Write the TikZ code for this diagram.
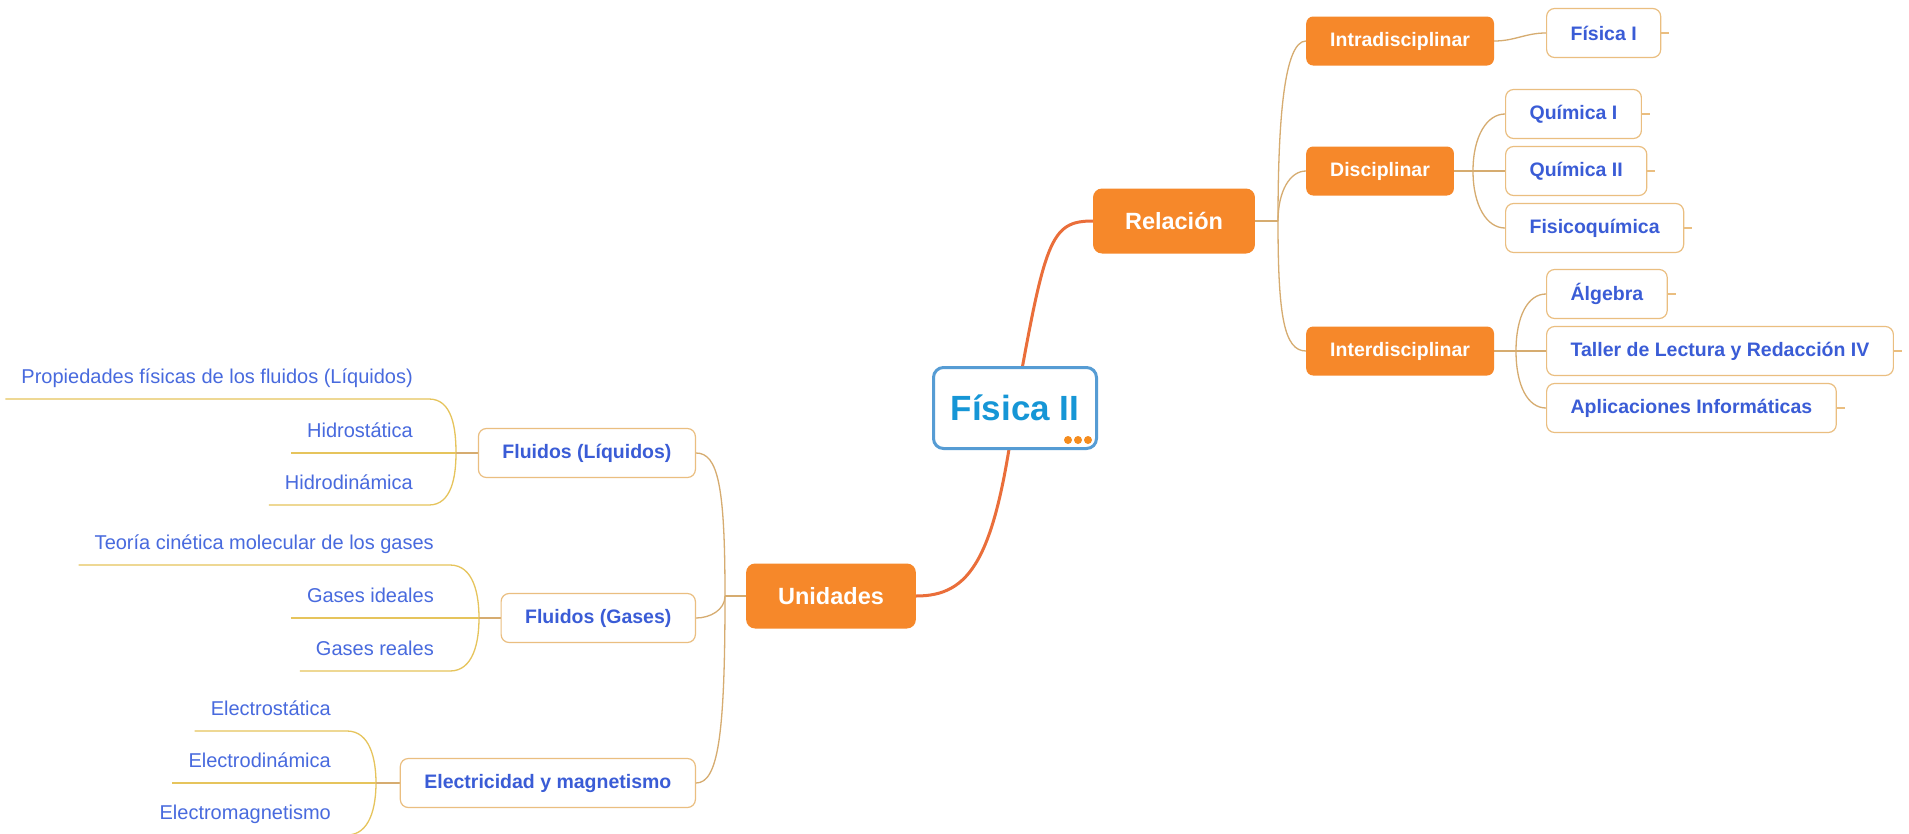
\documentclass[tikz,border=0pt]{standalone}
\usepackage{fontspec}
\setmainfont{Liberation Sans}
\usetikzlibrary{backgrounds}

\definecolor{mapOrange}{RGB}{246,136,42}
\definecolor{mainLine}{RGB}{234,110,58}
\definecolor{subLine}{RGB}{214,172,112}
\definecolor{leafLine}{RGB}{230,196,92}
\definecolor{boxEdge}{RGB}{234,190,128}
\definecolor{textBlue}{RGB}{58,92,214}
\definecolor{leafBlue}{RGB}{72,106,222}
\definecolor{titleBlue}{RGB}{22,150,214}
\definecolor{titleEdge}{RGB}{86,156,212}
\definecolor{dotOrange}{RGB}{245,140,30}

\tikzset{
  root/.style={draw=titleEdge, line width=3pt, fill=white, rounded corners=10pt,
    minimum width=163pt, minimum height=81pt, text=titleBlue,
    font=\fontsize{35}{40}\selectfont\bfseries},
  topic/.style={fill=mapOrange, rounded corners=9pt, text=white, inner xsep=32pt,
    minimum height=65pt, font=\fontsize{23.5}{28}\selectfont\bfseries},
  subtopic/.style={fill=mapOrange, rounded corners=7pt, text=white, inner xsep=24pt,
    minimum height=49pt, font=\fontsize{19.5}{23}\selectfont\bfseries},
  item/.style={draw=boxEdge, line width=1.2pt, fill=white, rounded corners=8pt,
    text=textBlue, inner xsep=24pt, minimum height=49pt,
    font=\fontsize{19.5}{23}\selectfont\bfseries},
  leaf/.style={text=leafBlue, inner xsep=16pt, inner ysep=10pt, text height=15pt,
    text depth=5pt, anchor=south east, font=\fontsize{20}{24}\selectfont},
  mainline/.style={draw=mainLine, line width=3pt},
  subline/.style={draw=subLine, line width=1.3pt},
  leafline/.style={draw=leafLine, line width=1.3pt},
  tick/.style={draw=boxEdge, line width=1.2pt}
}

\begin{document}
\begin{tikzpicture}[x=1pt,y=1pt]
\useasboundingbox (0,0) rectangle (1909,-833);

\node[root] (fis2) at (1015,-408) {Física II};
\foreach \dx in {-30,-20,-10}
  \fill[dotOrange] ([shift={(\dx,10)}]fis2.south east) circle (4);

\node[topic] (rel) at (1174,-221) {Relación};
\node[topic] (uni) at (831,-596) {Unidades};

% Relacion
\node[subtopic, anchor=west] (intra) at (1306,-41) {Intradisciplinar};
\node[subtopic, anchor=west] (disc) at (1306,-171) {Disciplinar};
\node[subtopic, anchor=west] (inter) at (1306,-351) {Interdisciplinar};
\node[item, anchor=west] (fis1) at (1546,-33) {Física I};
\node[item, anchor=west] (qui1) at (1505,-114) {Química I};
\node[item, anchor=west] (qui2) at (1505,-171) {Química II};
\node[item, anchor=west] (fisq) at (1505,-228) {Fisicoquímica};
\node[item, anchor=west] (alg) at (1546,-294) {Álgebra};
\node[item, anchor=west] (tlr) at (1546,-351) {Taller de Lectura y Redacción IV};
\node[item, anchor=west] (apl) at (1546,-408) {Aplicaciones Informáticas};

% Unidades
\node[item, anchor=east] (fliq) at (696,-453) {Fluidos (Líquidos)};
\node[item, anchor=east] (fgas) at (696,-618) {Fluidos (Gases)};
\node[item, anchor=east] (elec) at (696,-783) {Electricidad y magnetismo};
\node[leaf] (prop) at (429,-399) {Propiedades físicas de los fluidos (Líquidos)};
\node[leaf] (hest) at (429,-453) {Hidrostática};
\node[leaf] (hdin) at (429,-505) {Hidrodinámica};
\node[leaf] (teo) at (450,-565) {Teoría cinética molecular de los gases};
\node[leaf] (gid) at (450,-618) {Gases ideales};
\node[leaf] (gre) at (450,-671) {Gases reales};
\node[leaf] (est) at (347,-731) {Electrostática};
\node[leaf] (edin) at (347,-783) {Electrodinámica};
\node[leaf] (emag) at (347,-835) {Electromagnetismo};

\coordinate (j1) at (1278,-221);
\coordinate (j2) at (1473,-171);
\coordinate (j3) at (1516,-351);
\coordinate (j4) at (725,-596);
\coordinate (bliq) at (456,-453);
\coordinate (bgas) at (479,-618);
\coordinate (bele) at (376,-783);

\begin{scope}[on background layer]
\fill[white] (0,0) rectangle (1909,-833);
\draw[mainline] (fis2.center) .. controls (1045,-240) and (1050,-221) .. (rel.west);
\draw[mainline] (fis2.center) .. controls (995,-560) and (970,-596) .. (uni.east);

\draw[subline] (rel.east) -- (j1);
\draw[subline] (j1) .. controls +(0,100) and +(-22,0) .. (intra.west);
\draw[subline] (j1) .. controls +(0,30) and +(-16,0) .. (disc.west);
\draw[subline] (j1) .. controls +(0,-95) and +(-22,0) .. (inter.west);
\draw[subline] (intra.east) to[out=0,in=180] (fis1.west);
\draw[subline] (disc.east) -- (j2);
\draw[subline] (j2) .. controls +(0,35) and +(-18,0) .. (qui1.west);
\draw[subline] (j2) -- (qui2.west);
\draw[subline] (j2) .. controls +(0,-35) and +(-18,0) .. (fisq.west);
\draw[subline] (inter.east) -- (j3);
\draw[subline] (j3) .. controls +(0,35) and +(-18,0) .. (alg.west);
\draw[subline] (j3) -- (tlr.west);
\draw[subline] (j3) .. controls +(0,-35) and +(-18,0) .. (apl.west);
\foreach \n in {fis1,qui1,qui2,fisq,alg,tlr,apl}
  \draw[tick] (\n.east) -- ++(8,0);

\draw[subline] (uni.west) -- (j4);
\draw[subline] (j4) .. controls +(0,110) and +(22,0) .. (fliq.east);
\draw[subline] (j4) .. controls +(0,-14) and +(14,0) .. (fgas.east);
\draw[subline] (j4) .. controls +(0,-140) and +(22,0) .. (elec.east);

\draw[leafline] (prop.south west) -- (prop.south east) to[out=0,in=90] (bliq);
\draw[leafline] (hest.south west) -- (bliq);
\draw[leafline] (hdin.south west) -- (hdin.south east) to[out=0,in=-90] (bliq);
\draw[subline] (bliq) -- (fliq.west);
\draw[leafline] (teo.south west) -- (teo.south east) to[out=0,in=90] (bgas);
\draw[leafline] (gid.south west) -- (bgas);
\draw[leafline] (gre.south west) -- (gre.south east) to[out=0,in=-90] (bgas);
\draw[subline] (bgas) -- (fgas.west);
\draw[leafline] (est.south west) -- (est.south east) to[out=0,in=90] (bele);
\draw[leafline] (edin.south west) -- (bele);
\draw[leafline] (emag.south west) -- (emag.south east) to[out=0,in=-90] (bele);
\draw[subline] (bele) -- (elec.west);
\end{scope}
\end{tikzpicture}
\end{document}
